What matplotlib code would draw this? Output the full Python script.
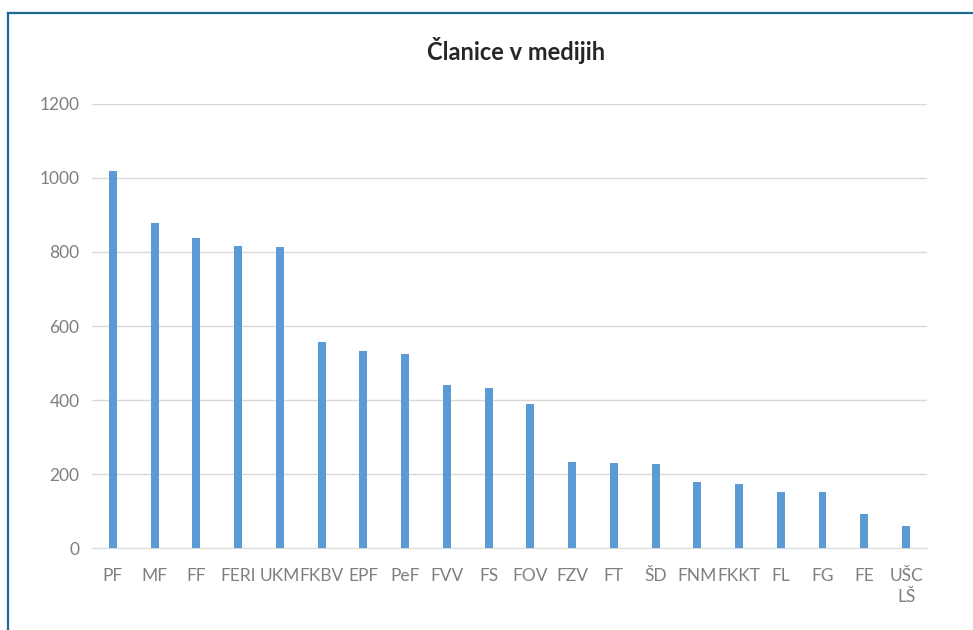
import matplotlib.pyplot as plt
from matplotlib.lines import Line2D
import numpy as np

# Data
categories = ["PF", "MF", "FF", "FERI", "UKM", "FKBV", "EPF", "PeF", "FVV", "FS",
              "FOV", "FZV", "FT", "ŠD", "FNM", "FKKT", "FL", "FG", "FE", "UŠC\nLŠ"]
values = [1020, 878, 838, 816, 813, 557, 532, 524, 441, 432,
          389, 232, 229, 227, 178, 173, 152, 151, 92, 60]
yticks = [0, 200, 400, 600, 800, 1000, 1200]

plt.rcParams["font.family"] = ["Lato", "DejaVu Sans"]

fig = plt.figure(figsize=(9.73, 6.3), dpi=100)
ax = fig.add_axes([0.0946, 0.130, 0.858, 0.705])

x = np.arange(len(categories))
ax.bar(x, values, width=0.19, color="#5b9bd5", zorder=3)

ax.set_xlim(-0.5, len(categories) - 0.5)
ax.set_ylim(0, 1200)
ax.set_yticks(yticks)
ax.set_yticklabels([str(t) for t in yticks])
ax.set_xticks(x)
ax.set_xticklabels(categories, linespacing=1.4)

ax.grid(axis="y", color="#d9d9d9", linewidth=1, zorder=0)
for s in ["top", "right", "left"]:
    ax.spines[s].set_visible(False)
ax.spines["bottom"].set_color("#d9d9d9")
ax.tick_params(axis="both", length=0, labelsize=12.5, colors="#7f7f7f")
ax.tick_params(axis="x", pad=14)
ax.tick_params(axis="y", pad=9)

fig.text(516 / 973, 1 - 50 / 630, "Članice v medijih", ha="center", va="center",
         fontsize=17, fontweight="bold", color="#262626")

# Frame lines (top and left)
top_y = 1 - 12.5 / 630
left_x = 7.5 / 973
fig.add_artist(Line2D([left_x, 1], [top_y, top_y], color="#1d6b8e", linewidth=1.6,
                      transform=fig.transFigure))
fig.add_artist(Line2D([left_x, left_x], [0, top_y], color="#1d6b8e", linewidth=1.6,
                      transform=fig.transFigure))

fig.savefig("out.png", dpi=100)
